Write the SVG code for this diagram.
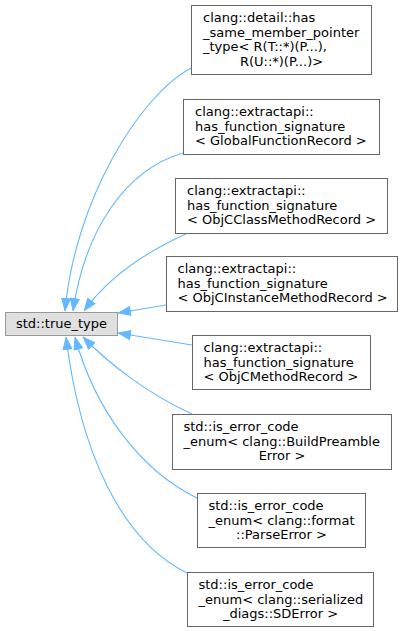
<svg xmlns="http://www.w3.org/2000/svg" width="403" height="631" viewBox="0 0 403 631">
<style>
  .box { fill: #ffffff; stroke: #666666; stroke-width: 1; }
  .root { fill: #e0e0e0; stroke: #999999; stroke-width: 1; }
  text { font-family: "DejaVu Sans", "Liberation Sans", sans-serif; font-size: 13px; fill: #000000; }
  .c { text-anchor: middle; }
  .edge { fill: none; stroke: #63b8ff; stroke-width: 1.1; marker-end: url(#arr); }
</style>
<defs>
  <marker id="arr" viewBox="0 0 13 10" refX="13" refY="5" markerWidth="13" markerHeight="10" markerUnits="userSpaceOnUse" orient="auto">
    <path d="M0.5,0.5 L12.5,5 L0.5,9.5 Z" fill="#63b8ff" stroke="#63b8ff" stroke-width="1"/>
  </marker>
</defs>
<rect width="403" height="631" fill="#ffffff"/>
<g id="edges">
  <path class="edge" d="M191,68 C140,95 75,200 65,311"/>
  <path class="edge" d="M183,153 C125,170 85,230 73,311"/>
  <path class="edge" d="M188,233 C150,250 110,275 84,311"/>
  <path class="edge" d="M166,305 L118,313"/>
  <path class="edge" d="M192,345 L118,333"/>
  <path class="edge" d="M192,414 C150,395 110,365 83,337"/>
  <path class="edge" d="M197,498 C140,470 95,410 75,337"/>
  <path class="edge" d="M187,573 C120,540 80,450 66,337"/>
</g>
<g id="node-true_type">
  <rect class="root" x="5.5" y="312.5" width="112" height="23"/>
  <text class="c" x="61.5" y="328">std::true_type</text>
</g>
<g id="node-has_same_member_pointer_type">
  <rect class="box" x="191.5" y="5.5" width="180" height="69"/>
  <text x="203" y="22">clang::detail::has</text>
  <text x="203" y="36.5">_same_member_pointer</text>
  <text x="203" y="51">_type&lt; R(T::*)(P...),</text>
  <text class="c" x="281.5" y="65.5">R(U::*)(P...)&gt;</text>
</g>
<g id="node-hfs-global">
  <rect class="box" x="183.5" y="99.5" width="196" height="55"/>
  <text x="195" y="116">clang::extractapi::</text>
  <text x="195" y="130.5">has_function_signature</text>
  <text x="195" y="145">&lt; GlobalFunctionRecord &gt;</text>
</g>
<g id="node-hfs-objcclass">
  <rect class="box" x="175.5" y="178.5" width="212" height="55"/>
  <text x="187" y="195">clang::extractapi::</text>
  <text x="187" y="209.5">has_function_signature</text>
  <text x="187" y="224">&lt; ObjCClassMethodRecord &gt;</text>
</g>
<g id="node-hfs-objcinstance">
  <rect class="box" x="166.5" y="256.5" width="231" height="55"/>
  <text x="177.5" y="273">clang::extractapi::</text>
  <text x="177.5" y="287.5">has_function_signature</text>
  <text x="177.5" y="302">&lt; ObjCInstanceMethodRecord &gt;</text>
</g>
<g id="node-hfs-objcmethod">
  <rect class="box" x="192.5" y="335.5" width="178" height="54"/>
  <text x="203.5" y="352">clang::extractapi::</text>
  <text x="203.5" y="366.5">has_function_signature</text>
  <text x="203.5" y="381">&lt; ObjCMethodRecord &gt;</text>
</g>
<g id="node-iece-buildpreamble">
  <rect class="box" x="172.5" y="414.5" width="219" height="55"/>
  <text x="183.5" y="431">std::is_error_code</text>
  <text x="183.5" y="445.5">_enum&lt; clang::BuildPreamble</text>
  <text class="c" x="282" y="460">Error &gt;</text>
</g>
<g id="node-iece-parseerror">
  <rect class="box" x="197.5" y="493.5" width="168" height="54"/>
  <text x="208.5" y="510">std::is_error_code</text>
  <text x="208.5" y="524.5">_enum&lt; clang::format</text>
  <text class="c" x="281.5" y="539">::ParseError &gt;</text>
</g>
<g id="node-iece-sderror">
  <rect class="box" x="187.5" y="572.5" width="186" height="54"/>
  <text x="198.5" y="589">std::is_error_code</text>
  <text x="198.5" y="603.5">_enum&lt; clang::serialized</text>
  <text class="c" x="280.5" y="618">_diags::SDError &gt;</text>
</g>
</svg>
